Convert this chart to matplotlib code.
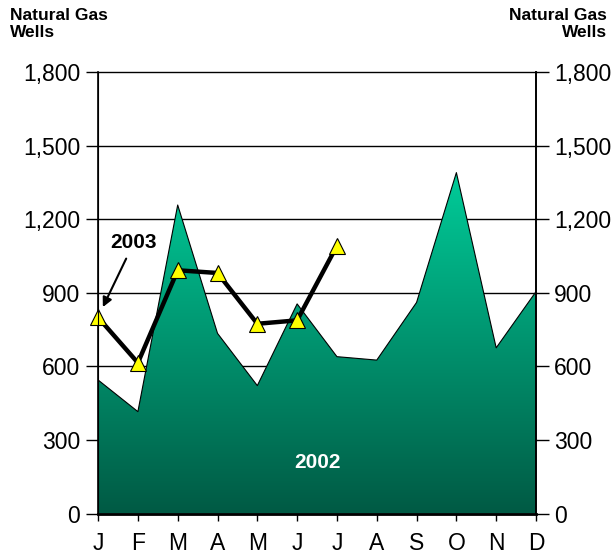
import matplotlib.pyplot as plt
import numpy as np
from matplotlib.patches import Polygon
from matplotlib.colors import LinearSegmentedColormap

plt.rcParams['font.family'] = ['Liberation Sans', 'DejaVu Sans']

months = ['J', 'F', 'M', 'A', 'M', 'J', 'J', 'A', 'S', 'O', 'N', 'D']
wells_2002 = [545, 416, 1258, 735, 522, 855, 640, 626, 861, 1390, 676, 905]
wells_2003 = [800, 615, 992, 981, 774, 788, 1092]
yticks = [0, 300, 600, 900, 1200, 1500, 1800]

fig = plt.figure(figsize=(6.13, 5.59), dpi=100)
ax = fig.add_axes([0.16, 0.081, 0.7144, 0.7902])

x = np.arange(len(months))
ymax = max(wells_2002)

# gradient fill for 2002, clipped to the area shape
verts = [(0, 0)] + list(zip(x, wells_2002)) + [(x[-1], 0)]
poly = Polygon(verts, closed=True, facecolor='none', edgecolor='none')
ax.add_patch(poly)
cmap = LinearSegmentedColormap.from_list('g', ['#005a44', '#00cc99'])
grad = np.linspace(0, 1, 256).reshape(-1, 1)
im = ax.imshow(grad, cmap=cmap, origin='lower', aspect='auto',
               extent=[0, x[-1], 0, ymax], zorder=2)
im.set_clip_path(poly)
ax.plot(x, wells_2002, color='black', lw=0.8, zorder=3)

for yv in yticks[1:]:
    ax.axhline(yv, color='black', lw=1, zorder=1, clip_on=False)

# 2003 line
ax.plot(x[:len(wells_2003)], wells_2003, color='black', lw=3.2, zorder=4,
        marker='^', markersize=12, markerfacecolor='#ffff00',
        markeredgecolor='black', markeredgewidth=0.8, clip_on=False)

ax.annotate('2003', xy=(0.12, 842), xytext=(0.9, 1105), fontsize=15,
            fontweight='bold', ha='center', va='center', zorder=5,
            arrowprops=dict(arrowstyle='-|>', color='black', lw=1.5,
                            shrinkA=3, shrinkB=0, mutation_scale=14))
ax.text(5.5, 210, '2002', color='white', fontsize=15, fontweight='bold',
        ha='center', va='center', zorder=5)

ax.set_xlim(0, 11)
ax.set_ylim(0, 1800)
ax.set_xticks(x)
ax.set_xticklabels(months, fontsize=16.5)
ax.set_yticks(yticks)
ax.set_yticklabels([f'{v:,}' for v in yticks], fontsize=16.5)
ax.tick_params(axis='x', direction='out', length=5, width=1, pad=8)
ax.tick_params(axis='y', direction='out', length=9, width=1, pad=4)
ax.spines['top'].set_visible(False)
for s in ['left', 'right', 'bottom']:
    ax.spines[s].set_linewidth(1.2)
ax.spines['bottom'].set_linewidth(2)
ax.spines['bottom'].set_zorder(6)

ax2 = ax.twinx()
ax2.set_ylim(0, 1800)
ax2.set_yticks(yticks)
ax2.set_yticklabels([f'{v:,}' for v in yticks], fontsize=16.5)
ax2.tick_params(axis='y', direction='out', length=9, width=1, pad=4)
ax2.spines['top'].set_visible(False)
ax2.spines['right'].set_linewidth(1.2)

fig.text(0.016, 0.985, 'Natural Gas\nWells', fontsize=12.5, fontweight='bold',
         ha='left', va='top', linespacing=1.1)
fig.text(0.99, 0.985, 'Natural Gas\nWells', fontsize=12.5, fontweight='bold',
         ha='right', va='top', multialignment='right', linespacing=1.1)

fig.savefig('out.png', dpi=100)
